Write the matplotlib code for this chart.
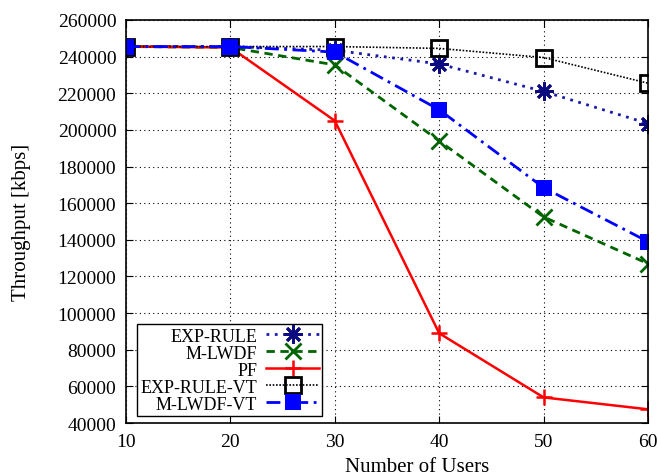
import matplotlib
matplotlib.use('Agg')
import matplotlib.pyplot as plt

plt.rcParams['font.family'] = ['Liberation Serif', 'DejaVu Serif']
plt.rcParams['font.size'] = 14

# data
users = [10, 20, 30, 40, 50, 60]
exp_rule = [245500, 245500, 243500, 236000, 221000, 203500]
m_lwdf = [245500, 245000, 235500, 194000, 152500, 127000]
pf = [245500, 245000, 205000, 89000, 54000, 47500]
exp_rule_vt = [245500, 245500, 245500, 244500, 239500, 225500]
m_lwdf_vt = [245500, 245500, 242500, 211000, 168500, 139000]

fig = plt.figure(figsize=(6.58, 4.77), dpi=100)
ax = fig.add_axes([0.1915, 0.111, 0.7933, 0.845])

ax.plot(users, exp_rule, color='#1a1aa8', linestyle=(0, (1, 2)), linewidth=2,
        marker=(8, 2, 0), markersize=13, markeredgewidth=2,
        markeredgecolor='#0c0c80', label='EXP-RULE')
ax.plot(users, m_lwdf, color='#006400', linestyle=(0, (3, 2)), linewidth=2,
        marker='x', markersize=11, markeredgewidth=2, label='M-LWDF')
ax.plot(users, pf, color='#ff0000', linestyle='-', linewidth=1.8,
        marker='+', markersize=12, markeredgewidth=1.8, label='PF')
ax.plot(users, exp_rule_vt, color='black', linestyle=(0, (1, 1)), linewidth=1.2,
        marker='s', markersize=11, markerfacecolor='none', markeredgewidth=2,
        label='EXP-RULE-VT')
ax.plot(users, m_lwdf_vt, color='#0000ff', linestyle=(0, (5, 2, 1, 2)), linewidth=2,
        marker='s', markersize=11, markeredgewidth=0, label='M-LWDF-VT')

ax.set_xlim(10, 60)
ax.set_ylim(40000, 260000)
ax.set_xticks(users)
ax.set_yticks(range(40000, 260001, 20000))
ax.grid(True, color='black', linestyle=(0, (1, 3)), linewidth=0.8)
ax.tick_params(direction='in', top=True, right=True, length=5, pad=7)
for s in ax.spines.values():
    s.set_linewidth(1.2)

ax.set_xlabel('Number of Users', fontsize=15)
ax.set_ylabel('Throughput [kbps]', fontsize=15)
ax.xaxis.set_label_coords(0.5575, -0.084)
ax.yaxis.set_label_coords(-0.182, 0.5)

leg = ax.legend(loc='lower left', markerfirst=False, frameon=True, fancybox=False,
                edgecolor='black', framealpha=1, fontsize=13, handlelength=2.9,
                labelspacing=0.0, borderpad=0.2, handletextpad=0.5,
                borderaxespad=0, bbox_to_anchor=(0.021, 0.017))
leg.get_frame().set_linewidth(1.0)

fig.savefig('out.png', dpi=100)
